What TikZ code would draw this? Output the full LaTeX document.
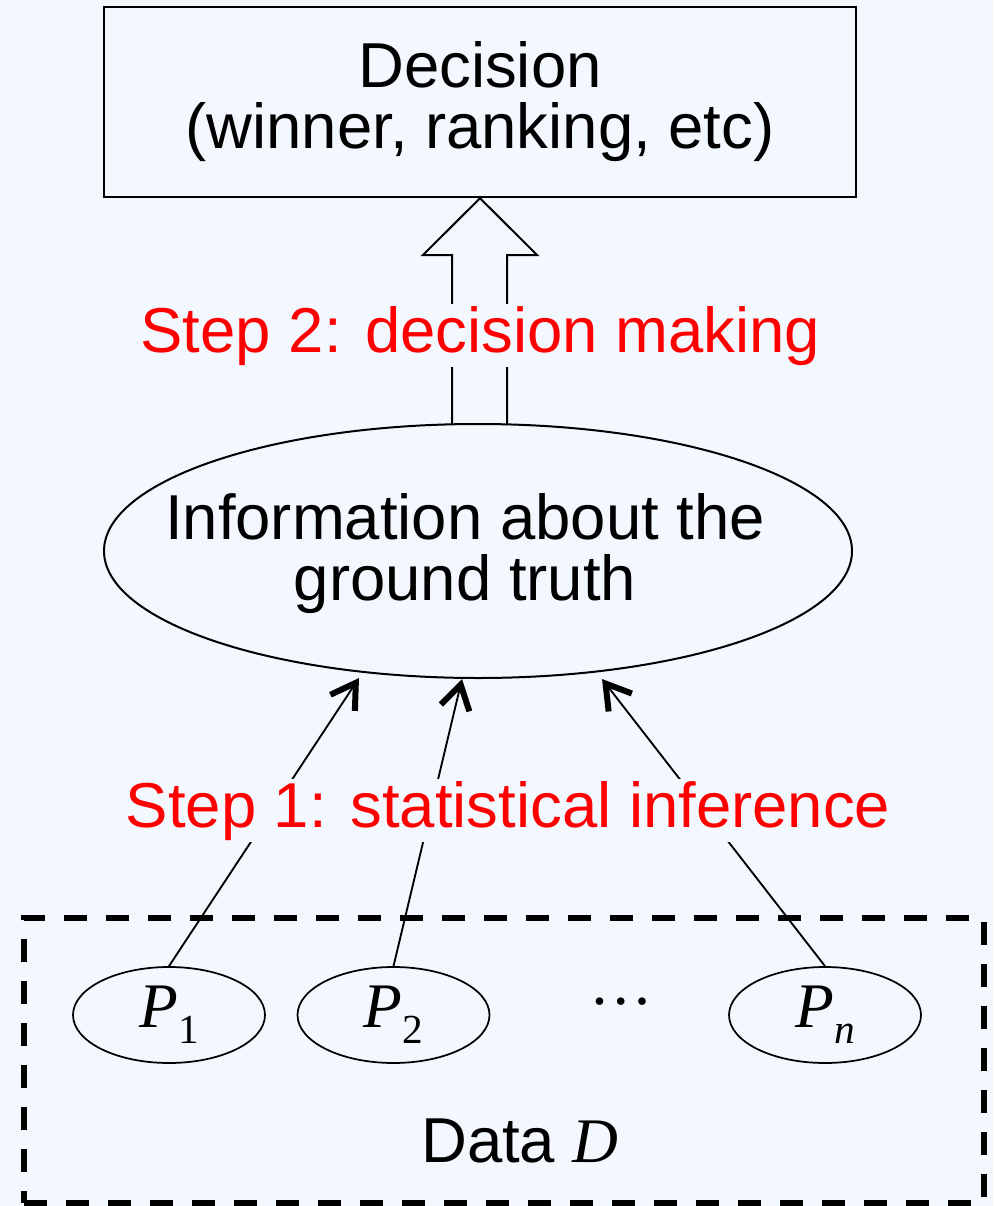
\documentclass[tikz,border=0pt]{standalone}
\usepackage{fontspec}
\setmainfont{Liberation Sans}
\newfontfamily\tms{Liberation Serif}
\usetikzlibrary{arrows.meta,shapes.geometric}
\definecolor{bg}{RGB}{243,248,255}
\definecolor{stepred}{RGB}{255,0,0}
\newcommand{\bigfont}{\fontsize{47.6}{45.75}\selectfont}
\newcommand{\subfont}{\fontsize{31}{31}\selectfont}
\newcommand{\Psub}[1]{{\tms\itshape P}\raisebox{-12pt}{\tms\subfont #1}}
\begin{document}
\begin{tikzpicture}[x=0.75pt,y=-0.75pt,
  every node/.style={font=\bigfont},
  decbox/.style={draw,line width=1.8pt,minimum width=564pt,minimum height=142.5pt,align=center,inner sep=0pt},
  infoell/.style={ellipse,draw,line width=1.5pt,minimum width=561pt,minimum height=190.5pt,inner sep=0pt},
  pell/.style={ellipse,draw,line width=1.3pt,minimum width=144pt,minimum height=72pt,inner sep=0pt},
  steplabel/.style={text=stepred,fill=bg,inner sep=1.5pt},
  conn/.style={line width=1.4pt,-{Straight Barb[length=18pt,width=22pt,line width=4.5pt]}},
  framebox/.style={draw,line width=4.5pt,dash pattern=on 17.5pt off 14pt,minimum width=720pt,minimum height=213.75pt,inner sep=0pt}
]
\fill[bg] (0,0) rectangle (993,1206);
\useasboundingbox (0,0) rectangle (993,1206);

% top decision box
\node[decbox] (dec) at (480,102) {Decision\\(winner, ranking, etc)};

% information ellipse
\node[infoell] (info) at (478,551) {};
\node[align=center] (infotext) at (465,554) {Information about the\\ground truth};

% hollow big arrow
\draw[line width=1.5pt,line join=miter] (452,424) -- (452,255) -- (423,255) -- (dec.south) -- (537,255) -- (507,255) -- (507,424);
\node[steplabel,anchor=base] (s2) at (480.5,352) {Step 2: decision making};

% data frame
\node[framebox] (data) at (504,1060.5) {};
\node[anchor=base] (datalabel) at (520,1162) {Data {\tms\itshape D}};

% preference nodes
\node[pell] (p1) at (169,1015) {\Psub{1}};
\node[pell] (p2) at (393.5,1015) {\Psub{2}};
\node[anchor=base,font=\tms\bigfont] (dots) at (621,1004) {…};
\node[pell] (pn) at (825,1015) {\Psub{\itshape n}};

% connectors
\coordinate (t1) at (359,678);
\coordinate (t2) at (462,679);
\coordinate (tn) at (602,679);
\draw[conn] (p1.north) -- (t1);
\draw[conn] (p2.north) -- (t2);
\draw[conn] (pn.north) -- (tn);
\node[steplabel,anchor=base] (s1) at (508,827) {Step 1: statistical inference};
\end{tikzpicture}
\end{document}
